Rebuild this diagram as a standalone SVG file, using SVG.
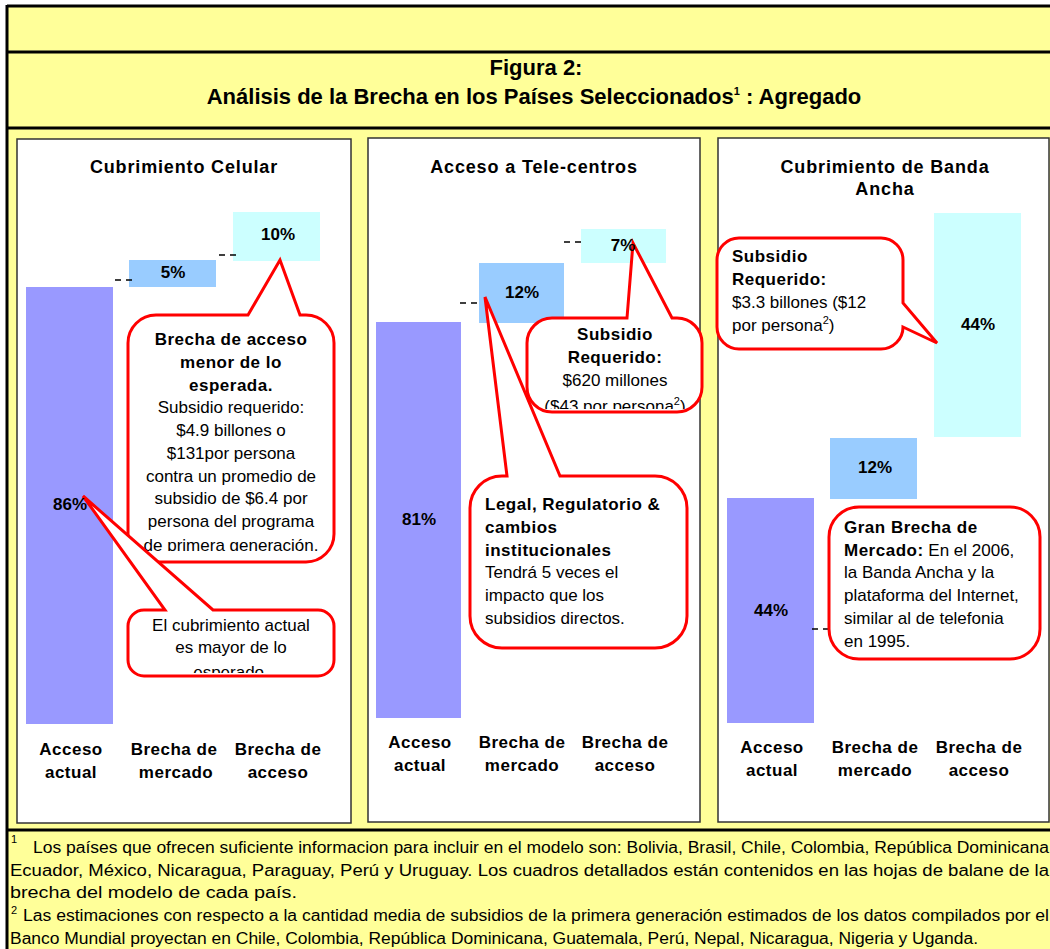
<svg xmlns="http://www.w3.org/2000/svg" width="1050" height="949" viewBox="0 0 1050 949">
<style>
text { font-family: "Liberation Sans", Arial, sans-serif; fill: #000; }
.ttl { font-size: 22px; font-weight: bold; text-anchor: middle; }
.ptitle { font-size: 18px; font-weight: bold; letter-spacing: 0.85px; text-anchor: middle; }
.pct { font-size: 17px; font-weight: bold; text-anchor: middle; }
.axis { font-size: 17px; font-weight: bold; letter-spacing: 0.5px; text-anchor: middle; }
.cb { font-size: 17px; font-weight: bold; letter-spacing: 0.5px; }
.cr { font-size: 17px; }
.mid { text-anchor: middle; }
.fn { font-size: 16px; }
.sup { font-size: 11px; }
.panel { fill: #fff; stroke: #333; stroke-width: 1.5; }
.callout { fill: #fff; stroke: #f00; stroke-width: 3; stroke-linejoin: miter; }
.dash { stroke: #000; stroke-width: 1.5; stroke-dasharray: 6 5; fill: none; }
.rule { stroke: #000; stroke-width: 3; }
.actual { fill: #9999FF; }
.mercado { fill: #99CCFF; }
.acceso { fill: #CCFFFF; }
</style>
<defs>
<clipPath id="clip1"><rect x="128" y="315" width="206" height="236"/></clipPath>
<clipPath id="clip2"><rect x="128" y="610" width="206" height="63"/></clipPath>
<clipPath id="clip3"><rect x="527" y="318" width="175" height="91"/></clipPath>
</defs>

<g id="frame">
<rect x="0" y="0" width="1050" height="949" fill="#fff"/>
<rect x="7" y="6" width="1050" height="950" fill="#FFFF99"/>
<line class="rule" x1="7" y1="6" x2="1050" y2="6"/>
<line class="rule" x1="7" y1="5" x2="7" y2="949"/>
<line class="rule" x1="7" y1="52" x2="1050" y2="52"/>
<line class="rule" x1="7" y1="128" x2="1050" y2="128"/>
<line class="rule" x1="7" y1="830" x2="1050" y2="830"/>
</g>

<g id="title">
<text class="ttl" x="536" y="75">Figura 2:</text>
<text class="ttl" x="534" y="104">Análisis de la Brecha en los Países Seleccionados<tspan class="sup" dy="-9">1</tspan><tspan dy="9"> : Agregado</tspan></text>
</g>

<g id="panel-celular">
<rect class="panel" x="17" y="139" width="334" height="684"/>
<text class="ptitle" x="184" y="173">Cubrimiento Celular</text>
<rect class="actual" x="26" y="287" width="87" height="437"/>
<rect class="mercado" x="129" y="260" width="87" height="27"/>
<rect class="acceso" x="233" y="212" width="87" height="49"/>
<text class="axis" x="71" y="755">Acceso</text>
<text class="axis" x="71" y="778">actual</text>
<text class="axis" x="174" y="755">Brecha de</text>
<text class="axis" x="176" y="778">mercado</text>
<text class="axis" x="278" y="755">Brecha de</text>
<text class="axis" x="278" y="778">acceso</text>
</g>

<g id="panel-telecentros">
<rect class="panel" x="368" y="138" width="332" height="684"/>
<text class="ptitle" x="534" y="173">Acceso a Tele-centros</text>
<rect class="actual" x="376" y="322" width="85" height="396"/>
<rect class="mercado" x="479" y="263" width="85" height="60"/>
<rect class="acceso" x="581" y="229" width="85" height="34"/>
<text class="axis" x="420" y="748">Acceso</text>
<text class="axis" x="420" y="771">actual</text>
<text class="axis" x="522" y="748">Brecha de</text>
<text class="axis" x="522" y="771">mercado</text>
<text class="axis" x="625" y="748">Brecha de</text>
<text class="axis" x="625" y="771">acceso</text>
</g>

<g id="panel-banda-ancha">
<rect class="panel" x="718" y="138" width="331" height="684"/>
<text class="ptitle" x="885" y="173">Cubrimiento de Banda</text>
<text class="ptitle" x="885" y="195">Ancha</text>
<rect class="actual" x="727" y="498" width="87" height="225"/>
<rect class="mercado" x="830" y="438" width="87" height="61"/>
<rect class="acceso" x="934" y="213" width="87" height="224"/>
<text class="axis" x="772" y="753">Acceso</text>
<text class="axis" x="772" y="776">actual</text>
<text class="axis" x="875" y="753">Brecha de</text>
<text class="axis" x="875" y="776">mercado</text>
<text class="axis" x="979" y="753">Brecha de</text>
<text class="axis" x="979" y="776">acceso</text>
</g>

<g id="connectors">
<line class="dash" x1="115" y1="280" x2="133" y2="280"/>
<line class="dash" x1="219" y1="255" x2="237" y2="255"/>
<line class="dash" x1="460" y1="303" x2="478" y2="303"/>
<line class="dash" x1="564" y1="242" x2="582" y2="242"/>
<line class="dash" x1="812" y1="629" x2="830" y2="629"/>
</g>

<g id="callout-brecha-acceso">
<path class="callout" d="M156,315 H248 L280,260 L300,315 H306 A28,28 0 0 1 334,343 V534 A28,28 0 0 1 306,562 H156 A28,28 0 0 1 128,534 V343 A28,28 0 0 1 156,315 Z"/>
<g clip-path="url(#clip1)">
<text class="cb mid" x="231" y="345">Brecha de acceso</text>
<text class="cb mid" x="231" y="368">menor de lo</text>
<text class="cb mid" x="231" y="391">esperada.</text>
<text class="cr mid" x="231" y="413">Subsidio requerido:</text>
<text class="cr mid" x="231" y="436">$4.9 billones o</text>
<text class="cr mid" x="231" y="459">$131por persona</text>
<text class="cr mid" x="231" y="482">contra un promedio de</text>
<text class="cr mid" x="231" y="504">subsidio de $6.4 por</text>
<text class="cr mid" x="231" y="527">persona del programa</text>
<text class="cr mid" x="231" y="551">de primera generación.</text>
</g>
</g>

<g id="callout-cubrimiento-actual">
<path class="callout" d="M144,610 H165 L83,496 L213,610 H318 A16,16 0 0 1 334,626 V660 A16,16 0 0 1 318,676 H144 A16,16 0 0 1 128,660 V626 A16,16 0 0 1 144,610 Z"/>
<g clip-path="url(#clip2)">
<text class="cr mid" x="231" y="631">El cubrimiento actual</text>
<text class="cr mid" x="231" y="653">es mayor de lo</text>
<text class="cr mid" x="231" y="678">esperado.</text>
</g>
</g>

<g id="callout-subsidio-telecentros">
<path class="callout" d="M552,318 H627 L633,243 L672,318 H677 A25,25 0 0 1 702,343 V387 A25,25 0 0 1 677,412 H552 A25,25 0 0 1 527,387 V343 A25,25 0 0 1 552,318 Z"/>
<g clip-path="url(#clip3)">
<text class="cb mid" x="615" y="340">Subsidio</text>
<text class="cb mid" x="615" y="363">Requerido:</text>
<text class="cr mid" x="615" y="386">$620 millones</text>
<text class="cr mid" x="615" y="412">($43 por persona<tspan class="sup" dy="-7">2</tspan><tspan dy="7">)</tspan></text>
</g>
</g>

<g id="callout-legal">
<path class="callout" d="M502,476 H507 L485,297 L560,476 H655 A32,32 0 0 1 687,508 V616 A32,32 0 0 1 655,648 H502 A32,32 0 0 1 470,616 V508 A32,32 0 0 1 502,476 Z"/>
<text class="cb" x="485" y="510">Legal, Regulatorio &amp;</text>
<text class="cb" x="485" y="533">cambios</text>
<text class="cb" x="485" y="556">institucionales</text>
<text class="cr" x="485" y="578">Tendrá 5 veces el</text>
<text class="cr" x="485" y="601">impacto que los</text>
<text class="cr" x="485" y="624">subsidios directos.</text>
</g>

<g id="callout-subsidio-banda">
<path class="callout" d="M739,238 H881 A22,22 0 0 1 903,260 V303 L937,343 L903,327 A22,22 0 0 1 881,349 H739 A22,22 0 0 1 717,327 V260 A22,22 0 0 1 739,238 Z"/>
<text class="cb" x="732" y="262">Subsidio</text>
<text class="cb" x="732" y="285">Requerido:</text>
<text class="cr" x="732" y="308">$3.3 billones ($12</text>
<text class="cr" x="732" y="331">por persona<tspan class="sup" dy="-7">2</tspan><tspan dy="7">)</tspan></text>
</g>

<g id="callout-gran-brecha">
<rect class="callout" x="829" y="507" width="211" height="152" rx="30" ry="30"/>
<text class="cb" x="844" y="533">Gran Brecha de</text>
<text class="cr" x="844" y="556"><tspan font-weight="bold" letter-spacing="0.5">Mercado:</tspan> En el 2006,</text>
<text class="cr" x="844" y="578">la Banda Ancha y la</text>
<text class="cr" x="844" y="601">plataforma del Internet,</text>
<text class="cr" x="844" y="624">similar al de telefonia</text>
<text class="cr" x="844" y="647">en 1995.</text>
</g>

<g id="bar-labels">
<text class="pct" x="70" y="510">86%</text>
<text class="pct" x="173" y="278">5%</text>
<text class="pct" x="278" y="240">10%</text>
<text class="pct" x="419" y="525">81%</text>
<text class="pct" x="522" y="298">12%</text>
<text class="pct" x="623" y="251">7%</text>
<text class="pct" x="771" y="616">44%</text>
<text class="pct" x="875" y="473">12%</text>
<text class="pct" x="978" y="330">44%</text>
</g>

<g id="footnotes">
<text class="sup" x="11" y="843">1</text>
<text class="fn" x="33" y="853" textLength="1016" lengthAdjust="spacingAndGlyphs">Los países que ofrecen suficiente informacion para incluir en el modelo son: Bolivia, Brasil, Chile, Colombia, República Dominicana</text>
<text class="fn" x="10" y="876" textLength="1039" lengthAdjust="spacingAndGlyphs">Ecuador, México, Nicaragua, Paraguay, Perú y Uruguay. Los cuadros detallados están contenidos en las hojas de balane de la</text>
<text class="fn" x="10" y="898" textLength="287" lengthAdjust="spacingAndGlyphs">brecha del modelo de cada país.</text>
<text class="sup" x="11" y="914">2</text>
<text class="fn" x="23" y="921" textLength="1026" lengthAdjust="spacingAndGlyphs">Las estimaciones con respecto a la cantidad media de subsidios de la primera generación estimados de los datos compilados por el</text>
<text class="fn" x="10" y="944" textLength="968" lengthAdjust="spacingAndGlyphs">Banco Mundial proyectan en Chile, Colombia, República Dominicana, Guatemala, Perú, Nepal, Nicaragua, Nigeria y Uganda.</text>
</g>
</svg>
